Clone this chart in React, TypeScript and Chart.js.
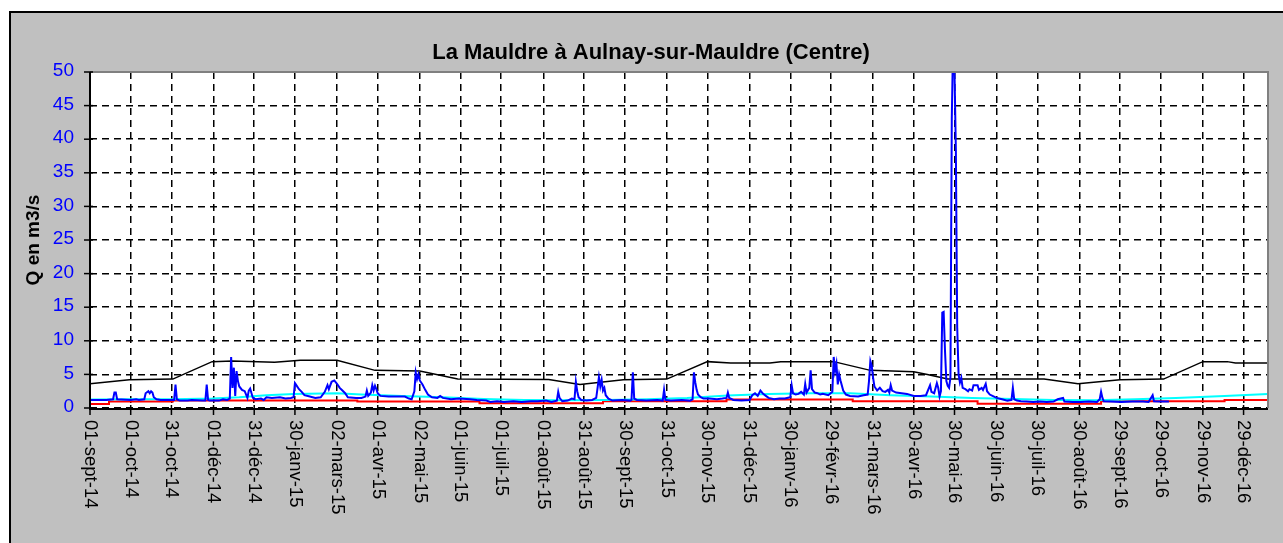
import React, { useEffect, useRef } from "react";
import { Chart, registerables } from "chart.js";
Chart.register(...registerables);

const TITLE = "La Mauldre à Aulnay-sur-Mauldre (Centre)";
const Y_TITLE = "Q en m3/s";

// x = days since 01-sept-14
const tickDays = [0, 30, 60, 91, 121, 151, 182, 212, 243, 273, 303, 334, 364, 394, 425, 455, 486, 516, 546, 577, 607, 637, 668, 698, 729, 759, 789, 820, 850];
const tickLabels = ["01-sept-14", "01-oct-14", "31-oct-14", "01-déc-14", "31-déc-14", "30-janv-15", "02-mars-15", "01-avr-15", "02-mai-15", "01-juin-15", "01-juil-15", "01-août-15", "31-août-15", "30-sept-15", "31-oct-15", "30-nov-15", "31-déc-15", "30-janv-16", "29-févr-16", "31-mars-16", "30-avr-16", "30-mai-16", "30-juin-16", "30-juil-16", "30-août-16", "29-sept-16", "29-oct-16", "29-nov-16", "29-déc-16"];
const yTicks = [0, 5, 10, 15, 20, 25, 30, 35, 40, 45, 50];

const blueDays = [0, 12, 17, 18, 19, 20, 30, 34, 36, 40, 41, 43, 44, 45, 46, 47, 49, 52, 62, 63, 64, 66, 72, 75, 83, 85, 86, 87, 88, 95, 98, 101, 103, 104, 105, 106, 107, 108, 109, 110, 112, 114, 116, 117, 118, 119, 120, 122, 126, 128, 130, 134, 140, 144, 148, 150, 151, 152, 154, 156, 158, 162, 166, 170, 173, 175, 176, 178, 180, 182, 184, 186, 188, 190, 196, 200, 203, 204, 205, 207, 208, 209, 210, 211, 212, 214, 220, 226, 232, 235, 237, 239, 240, 241, 242, 243, 245, 247, 249, 252, 256, 258, 260, 266, 272, 280, 285, 292, 295, 300, 305, 312, 318, 325, 330, 336, 340, 344, 345, 346, 348, 352, 355, 357, 358, 359, 360, 362, 366, 370, 373, 374, 375, 376, 377, 378, 379, 380, 382, 385, 392, 398, 399, 400, 401, 403, 410, 418, 422, 423, 424, 428, 436, 442, 444, 445, 446, 447, 448, 450, 452, 456, 462, 466, 469, 470, 471, 474, 480, 486, 488, 490, 492, 494, 496, 498, 500, 504, 508, 512, 516, 517, 518, 520, 522, 524, 526, 527, 528, 530, 531, 532, 534, 536, 538, 540, 544, 547, 548, 549, 550, 551, 552, 553, 555, 557, 560, 566, 570, 573, 574, 575, 576, 577, 578, 580, 582, 584, 586, 588, 589, 590, 591, 594, 598, 602, 607, 612, 616, 619, 620, 622, 624, 625, 626, 627, 628, 629, 630, 631, 632, 633, 634, 635, 636, 637, 638, 639, 640, 641, 642, 643, 645, 647, 648, 650, 651, 654, 655, 657, 658, 660, 661, 663, 665, 668, 672, 676, 679, 680, 681, 683, 686, 690, 695, 700, 705, 710, 713, 717, 718, 724, 730, 736, 742, 744, 745, 746, 747, 752, 760, 768, 776, 780, 783, 784, 788, 795];
const blueValues = [1.2, 1.2, 1.3, 2.3, 2.3, 1.3, 1.2, 1.3, 1.2, 1.3, 2.2, 2.5, 2.2, 2.5, 2.3, 1.6, 1.3, 1.2, 1.2, 3.5, 1.3, 1.1, 1.1, 1.2, 1.1, 1.1, 3.5, 1.2, 1.1, 1.1, 1.3, 1.2, 1.4, 7.6, 3.0, 6.0, 1.8, 5.5, 4.0, 3.2, 2.7, 2.5, 1.5, 2.6, 2.9, 2.2, 1.5, 1.3, 1.4, 1.2, 1.6, 1.5, 1.6, 1.4, 1.5, 1.6, 3.7, 3.4, 2.8, 2.4, 1.9, 1.7, 1.5, 1.6, 2.4, 3.4, 2.8, 3.9, 4.1, 3.6, 3.0, 2.6, 2.2, 1.6, 1.5, 1.5, 1.7, 2.6, 1.8, 2.3, 3.4, 2.6, 3.3, 2.8, 2.2, 1.8, 1.7, 1.7, 1.7, 1.4, 1.3, 2.5, 5.3, 4.3, 5.0, 4.1, 3.5, 2.7, 2.0, 1.6, 1.5, 1.8, 1.5, 1.3, 1.4, 1.3, 1.2, 1.1, 0.9, 1.0, 0.9, 1.0, 0.9, 1.0, 1.0, 1.1, 0.9, 1.1, 2.4, 1.5, 1.0, 1.1, 1.4, 1.3, 3.9, 2.5, 1.6, 1.2, 1.1, 1.2, 1.5, 3.0, 4.6, 3.2, 4.2, 2.6, 3.0, 1.9, 1.4, 1.1, 1.2, 1.1, 1.2, 5.3, 1.4, 1.2, 1.1, 1.2, 1.1, 2.7, 1.2, 1.1, 1.2, 1.1, 1.3, 5.3, 3.8, 2.7, 2.0, 1.6, 1.4, 1.4, 1.3, 1.4, 1.5, 2.3, 1.5, 1.2, 1.1, 1.2, 1.9, 2.2, 1.8, 2.6, 2.1, 1.8, 1.5, 1.3, 1.4, 1.4, 1.6, 3.4, 2.2, 2.0, 2.1, 2.4, 2.0, 3.6, 2.3, 3.0, 5.6, 2.8, 2.3, 2.2, 2.0, 2.1, 1.9, 2.4, 7.6, 5.5, 6.6, 3.5, 5.0, 4.1, 2.6, 2.0, 1.8, 1.7, 1.9, 2.0, 4.0, 7.0, 6.3, 4.5, 3.2, 2.6, 3.0, 2.5, 2.4, 2.7, 2.3, 3.4, 2.6, 2.3, 2.2, 2.1, 1.8, 1.8, 1.9, 3.4, 2.4, 2.2, 3.7, 3.0, 1.7, 2.5, 14.2, 14.3, 8.5, 4.0, 3.3, 3.0, 4.5, 43, 55, 50, 38.5, 12, 5.0, 3.8, 4.5, 3.0, 2.8, 2.5, 2.8, 2.6, 3.4, 3.4, 2.7, 3.0, 2.7, 3.6, 2.5, 2.0, 1.8, 1.5, 1.3, 1.1, 1.2, 3.0, 1.3, 1.1, 1.0, 0.95, 0.9, 0.95, 0.9, 0.95, 1.3, 1.5, 0.95, 0.9, 0.9, 0.95, 0.9, 1.3, 2.4, 1.5, 1.0, 0.95, 0.9, 0.95, 0.95, 0.9, 1.9, 1.0, 0.95, 0.95];

const blackDays = [0, 29, 61, 90, 105, 136, 155, 182, 210, 243, 271, 338, 361, 393, 425, 455, 472, 501, 509, 548, 575, 607, 617, 632, 703, 728, 759, 791, 820, 838, 844, 868];
const blackValues = [3.6, 4.2, 4.3, 6.9, 7.0, 6.8, 7.1, 7.1, 5.6, 5.5, 4.3, 4.25, 3.5, 4.2, 4.3, 6.9, 6.7, 6.7, 6.9, 6.9, 5.6, 5.4, 5.0, 4.3, 4.3, 3.6, 4.2, 4.3, 6.9, 6.9, 6.7, 6.7];

const cyanDays = [0, 30, 61, 90, 110, 130, 150, 182, 200, 230, 260, 290, 320, 350, 380, 410, 440, 470, 500, 530, 560, 590, 620, 650, 680, 710, 740, 770, 800, 836, 868];
const cyanValues = [1.25, 1.3, 1.3, 1.4, 1.6, 1.9, 2.1, 2.2, 2.0, 1.8, 1.6, 1.35, 1.2, 1.15, 1.2, 1.3, 1.5, 1.85, 2.1, 2.2, 2.2, 1.9, 1.7, 1.5, 1.35, 1.2, 1.15, 1.3, 1.5, 1.8, 2.1];

const redDays = [0, 14, 61, 197, 287, 378, 469, 562, 654, 745, 836, 868];
const redValues = [0.6, 0.95, 1.1, 0.95, 0.7, 1.0, 1.25, 1.0, 0.65, 1.0, 1.2, 1.2];

const FONT = '"Liberation Sans", Arial, sans-serif';

const pts = (xs: number[], ys: number[]) => xs.map((x, i) => ({ x, y: ys[i] }));

const decorPlugin = {
  id: "decor",
  beforeDraw(chart: any) {
    const { ctx, width, height, chartArea: a } = chart;
    ctx.save();
    ctx.fillStyle = "#ffffff";
    ctx.fillRect(0, 0, width, height);
    ctx.fillStyle = "#c0c0c0";
    ctx.fillRect(9, 11, width - 9, height - 11);
    ctx.strokeStyle = "#000";
    ctx.lineWidth = 2;
    ctx.beginPath();
    ctx.moveTo(10, height);
    ctx.lineTo(10, 12);
    ctx.lineTo(width, 12);
    ctx.stroke();
    ctx.fillStyle = "#ffffff";
    ctx.fillRect(a.left, a.top, a.right - a.left, a.bottom - a.top);
    ctx.restore();
  },
  afterDraw(chart: any) {
    const { ctx, chartArea: a, scales } = chart;
    const xs = scales.x;
    const ys = scales.y;
    ctx.save();
    // plot border (gray top/right)
    ctx.strokeStyle = "#808080";
    ctx.lineWidth = 2;
    ctx.beginPath();
    ctx.moveTo(a.left, a.top);
    ctx.lineTo(a.right, a.top);
    ctx.lineTo(a.right, a.bottom);
    ctx.stroke();
    // axes
    ctx.strokeStyle = "#000";
    ctx.lineWidth = 2;
    ctx.beginPath();
    ctx.moveTo(a.left, a.top);
    ctx.lineTo(a.left, a.bottom + 1);
    ctx.lineTo(a.right, a.bottom + 1);
    ctx.stroke();
    // y ticks
    ctx.lineWidth = 1.5;
    yTicks.forEach((v) => {
      const y = ys.getPixelForValue(v);
      ctx.beginPath();
      ctx.moveTo(a.left - 6, y);
      ctx.lineTo(a.left + 3, y);
      ctx.stroke();
    });
    tickDays.forEach((d) => {
      const x = xs.getPixelForValue(d);
      ctx.beginPath();
      ctx.moveTo(x, a.bottom - 3);
      ctx.lineTo(x, a.bottom + 7);
      ctx.stroke();
    });
    // y labels
    ctx.fillStyle = "#0000ff";
    ctx.font = `19px ${FONT}`;
    ctx.textAlign = "right";
    ctx.textBaseline = "middle";
    yTicks.forEach((v) => {
      ctx.fillText(String(v), a.left - 16, ys.getPixelForValue(v) - 1);
    });
    // x labels rotated clockwise
    ctx.fillStyle = "#000";
    ctx.font = `18.5px ${FONT}`;
    tickDays.forEach((d, i) => {
      const x = xs.getPixelForValue(d);
      ctx.save();
      ctx.translate(x, a.bottom + 12);
      ctx.rotate(Math.PI / 2);
      ctx.textAlign = "left";
      ctx.textBaseline = "middle";
      ctx.fillText(tickLabels[i], 0, 0);
      ctx.restore();
    });
    // title
    ctx.font = `bold 22px ${FONT}`;
    ctx.textAlign = "center";
    ctx.textBaseline = "middle";
    ctx.fillText(TITLE, 651, 53);
    // y title
    ctx.save();
    ctx.translate(34, 240);
    ctx.rotate(-Math.PI / 2);
    ctx.font = `bold 19px ${FONT}`;
    ctx.fillText(Y_TITLE, 0, 0);
    ctx.restore();
    ctx.restore();
  },
};

export default function App() {
  const ref = useRef<HTMLCanvasElement | null>(null);
  useEffect(() => {
    if (!ref.current) return;
    const gridCommon = { color: "#000", lineWidth: 1.5, drawTicks: false };
    const chart = new Chart(ref.current, {
      type: "line",
      data: {
        datasets: [
          { data: pts(blueDays, blueValues), borderColor: "#0000ff", borderWidth: 2, pointRadius: 0 },
          { data: pts(blackDays, blackValues), borderColor: "#000000", borderWidth: 1.5, pointRadius: 0 },
          { data: pts(cyanDays, cyanValues), borderColor: "#00ffff", borderWidth: 2, pointRadius: 0 },
          { data: pts(redDays, redValues), borderColor: "#ff0000", borderWidth: 2, pointRadius: 0, stepped: true },
        ],
      },
      options: {
        responsive: false,
        animation: false,
        layout: { padding: { left: 90, top: 72, right: 15, bottom: 135 } },
        plugins: { legend: { display: false }, tooltip: { enabled: false }, title: { display: false } },
        scales: {
          x: {
            type: "linear",
            min: 0,
            max: 868,
            afterBuildTicks: (s: any) => {
              s.ticks = tickDays.map((v) => ({ value: v }));
            },
            ticks: { display: false },
            grid: gridCommon,
            border: { display: false, dash: [7, 5] },
          },
          y: {
            type: "linear",
            min: 0,
            max: 50,
            afterBuildTicks: (s: any) => {
              s.ticks = yTicks.map((v) => ({ value: v }));
            },
            ticks: { display: false },
            grid: gridCommon,
            border: { display: false, dash: [7, 5] },
          },
        },
      } as any,
      plugins: [decorPlugin],
    });
    return () => chart.destroy();
  }, []);
  return (
    <div style={{ position: "absolute", left: 0, top: 0, width: 1283, height: 543 }}>
      <canvas ref={ref} width={1283} height={543} style={{ width: 1283, height: 543, display: "block" }} />
    </div>
  );
}
